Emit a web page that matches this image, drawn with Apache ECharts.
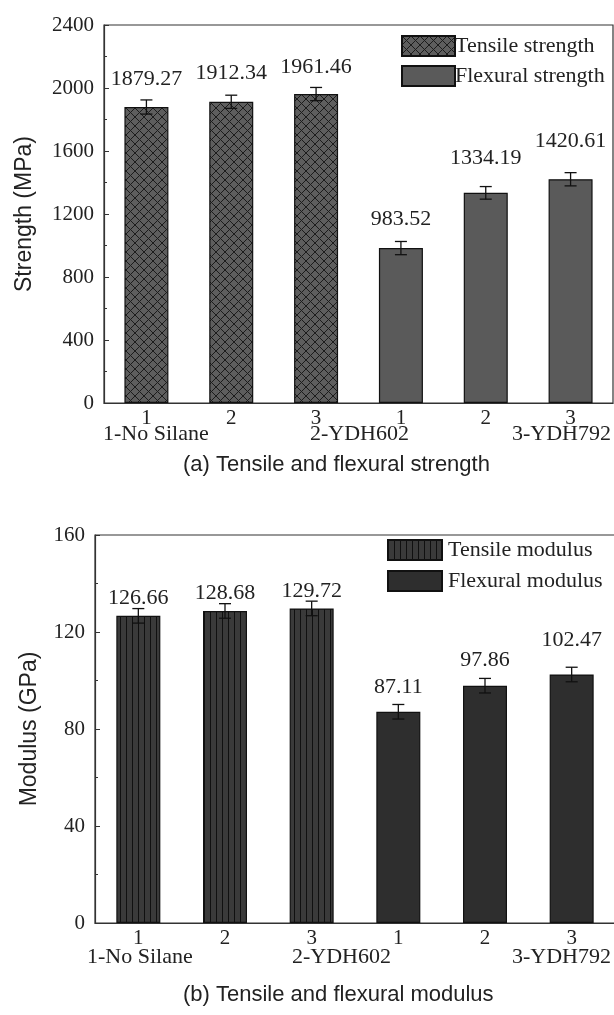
<!DOCTYPE html>
<html>
<head>
<meta charset="utf-8">
<script src="https://cdn.jsdelivr.net/npm/echarts@6/dist/echarts.min.js"></script>
<style>
html,body{margin:0;padding:0;background:#fff;}
#c{width:614px;height:1015px;}
</style>
</head>
<body>
<div id="c"></div>
<script>
// ---- data ----
const categories = ['1', '2', '3', '1', '2', '3'];
const groupLabels = ['1-No Silane', '2-YDH602', '3-YDH792'];
const tensileStrength = [1879.27, 1912.34, 1961.46];
const flexuralStrength = [983.52, 1334.19, 1420.61];
const strengthErr = [45, 42, 42, 42, 40, 42];
const tensileModulus = [126.66, 128.68, 129.72];
const flexuralModulus = [87.11, 97.86, 102.47];
const modulusErr = [3, 3, 3, 3, 3, 3];
const strengthTicks = [0, 400, 800, 1200, 1600, 2000, 2400];
const modulusTicks = [0, 40, 80, 120, 160];

// ---- style ----
const SERIF = '"Liberation Serif", "Times New Roman", serif';
const SANS = '"Liberation Sans", Arial, sans-serif';
const strengthLabelGap = [17, 18, 16, 18, 24, 27];
const modulusLabelGap = [7, 7, 6, 14, 14, 23];

function crossPattern() {
  const s = 9, c = document.createElement('canvas');
  c.width = s; c.height = s;
  const g = c.getContext('2d');
  g.fillStyle = '#5e5e5e'; g.fillRect(0, 0, s, s);
  g.strokeStyle = '#1c1c1c'; g.lineWidth = 1;
  g.beginPath();
  g.moveTo(0, 0); g.lineTo(s, s);
  g.moveTo(0, s); g.lineTo(s, 0);
  g.stroke();
  return { image: c, repeat: 'repeat' };
}
function stripePattern() {
  const s = 6, c = document.createElement('canvas');
  c.width = s; c.height = s;
  const g = c.getContext('2d');
  g.fillStyle = '#3a3a3a'; g.fillRect(0, 0, s, s);
  g.fillStyle = '#101010'; g.fillRect(0, 0, 1, s);
  return { image: c, repeat: 'repeat' };
}

function padded(vals, offset) {
  const out = categories.map(() => null);
  vals.forEach((v, i) => { out[i + offset] = v; });
  return out;
}
function labelled(vals, offset, gaps) {
  return padded(vals, offset).map((v, i) => v == null ? null : {
    value: v,
    label: { show: true, position: 'top', distance: gaps[i], formatter: v.toFixed(2) }
  });
}

function errorRender(params, api) {
  const x = api.value(0), v = api.value(1), e = api.value(2);
  const hi = api.coord([x, v + e]);
  const lo = api.coord([x, v - e]);
  const w = 6;
  const st = { stroke: '#111', lineWidth: 1.3 };
  return {
    type: 'group',
    children: [
      { type: 'line', shape: { x1: hi[0], y1: hi[1], x2: lo[0], y2: lo[1] }, style: st },
      { type: 'line', shape: { x1: hi[0] - w, y1: hi[1], x2: hi[0] + w, y2: hi[1] }, style: st },
      { type: 'line', shape: { x1: lo[0] - w, y1: lo[1], x2: lo[0] + w, y2: lo[1] }, style: st }
    ]
  };
}

const allStrength = tensileStrength.concat(flexuralStrength);
const allModulus = tensileModulus.concat(flexuralModulus);

function xAxisCfg(gridIndex) {
  return {
    type: 'category', gridIndex, data: categories,
    axisLine: { lineStyle: { color: '#333', width: 1.2 } },
    axisTick: { inside: true, length: 4, lineStyle: { color: '#333' } },
    axisLabel: { fontFamily: SERIF, fontSize: 21, color: '#222', margin: 5 }
  };
}
function yAxisCfg(gridIndex, ticks, name, nameGap) {
  return {
    type: 'value', gridIndex,
    min: ticks[0], max: ticks[ticks.length - 1], interval: ticks[1] - ticks[0],
    name, nameLocation: 'middle', nameGap, nameRotate: 90,
    nameTextStyle: { fontFamily: SANS, fontSize: 23, color: '#222' },
    axisLine: { show: true, lineStyle: { color: '#333', width: 1.2 } },
    axisTick: { show: true, inside: true, length: 5, lineStyle: { color: '#333' } },
    minorTick: { show: true, splitNumber: 2, length: 3, lineStyle: { color: '#333' } },
    splitLine: { show: false },
    axisLabel: { fontFamily: SERIF, fontSize: 21, color: '#222', margin: 10, formatter: v => String(v) }
  };
}

const labelFont = { fontFamily: SERIF, fontSize: 22, color: '#222' };

const option = {
  animation: false,
  backgroundColor: '#fff',
  grid: [
    { left: 104, top: 25, width: 509, height: 378, show: true, borderColor: '#333', borderWidth: 1.2,
      containLabel: false, outerBoundsMode: 'none' },
    { left: 95, top: 535, width: 520, height: 388, show: true, borderColor: '#333', borderWidth: 1.2,
      containLabel: false, outerBoundsMode: 'none' }
  ],
  xAxis: [xAxisCfg(0), xAxisCfg(1)],
  yAxis: [
    yAxisCfg(0, strengthTicks, 'Strength (MPa)', 68),
    yAxisCfg(1, modulusTicks, 'Modulus (GPa)', 54)
  ],
  legend: [
    {
      left: 401, top: 35, orient: 'vertical', icon: 'rect', itemWidth: 53, itemHeight: 20, itemGap: 8, padding: 0,
      textStyle: { fontFamily: SERIF, fontSize: 22, color: '#222', padding: [0, 0, 0, -5] },
      data: ['Tensile strength', 'Flexural strength']
    },
    {
      left: 387, top: 539, orient: 'vertical', icon: 'rect', itemWidth: 54, itemHeight: 20, itemGap: 9, padding: 0,
      textStyle: { fontFamily: SERIF, fontSize: 22, color: '#222', padding: [0, 0, 0, 1] },
      data: ['Tensile modulus', 'Flexural modulus']
    }
  ],
  series: [
    {
      name: 'Tensile strength', type: 'bar', xAxisIndex: 0, yAxisIndex: 0,
      barWidth: 44, barGap: '-100%',
      itemStyle: { color: crossPattern(), borderColor: '#111', borderWidth: 1.2 },
      label: labelFont,
      data: labelled(tensileStrength, 0, strengthLabelGap)
    },
    {
      name: 'Flexural strength', type: 'bar', xAxisIndex: 0, yAxisIndex: 0,
      barWidth: 44, barGap: '-100%',
      itemStyle: { color: '#5a5a5a', borderColor: '#111', borderWidth: 1.2 },
      label: labelFont,
      data: labelled(flexuralStrength, 3, strengthLabelGap)
    },
    {
      type: 'custom', xAxisIndex: 0, yAxisIndex: 0, z: 5, silent: true,
      renderItem: errorRender,
      data: allStrength.map((v, i) => [i, v, strengthErr[i]])
    },
    {
      name: 'Tensile modulus', type: 'bar', xAxisIndex: 1, yAxisIndex: 1,
      barWidth: 44, barGap: '-100%',
      itemStyle: { color: stripePattern(), borderColor: '#111', borderWidth: 1.2 },
      label: labelFont,
      data: labelled(tensileModulus, 0, modulusLabelGap)
    },
    {
      name: 'Flexural modulus', type: 'bar', xAxisIndex: 1, yAxisIndex: 1,
      barWidth: 44, barGap: '-100%',
      itemStyle: { color: '#2e2e2e', borderColor: '#111', borderWidth: 1.2 },
      label: labelFont,
      data: labelled(flexuralModulus, 3, modulusLabelGap)
    },
    {
      type: 'custom', xAxisIndex: 1, yAxisIndex: 1, z: 5, silent: true,
      renderItem: errorRender,
      data: allModulus.map((v, i) => [i, v, modulusErr[i]])
    }
  ],
  graphic: [
    { type: 'text', left: 103, top: 423, style: { text: groupLabels[0], font: '22px ' + SERIF, fill: '#222' } },
    { type: 'text', left: 310, top: 423, style: { text: groupLabels[1], font: '22px ' + SERIF, fill: '#222' } },
    { type: 'text', left: 512, top: 423, style: { text: groupLabels[2], font: '22px ' + SERIF, fill: '#222' } },
    { type: 'text', left: 183, top: 454, style: { text: '(a) Tensile and flexural strength', font: '22px ' + SANS, fill: '#222' } },
    { type: 'text', left: 87, top: 946, style: { text: groupLabels[0], font: '22px ' + SERIF, fill: '#222' } },
    { type: 'text', left: 292, top: 946, style: { text: groupLabels[1], font: '22px ' + SERIF, fill: '#222' } },
    { type: 'text', left: 512, top: 946, style: { text: groupLabels[2], font: '22px ' + SERIF, fill: '#222' } },
    { type: 'text', left: 183, top: 984, style: { text: '(b) Tensile and flexural modulus', font: '22px ' + SANS, fill: '#222' } }
  ]
};

const chart = echarts.init(document.getElementById('c'), null, { renderer: 'canvas' });
chart.setOption(option);
</script>
</body>
</html>
